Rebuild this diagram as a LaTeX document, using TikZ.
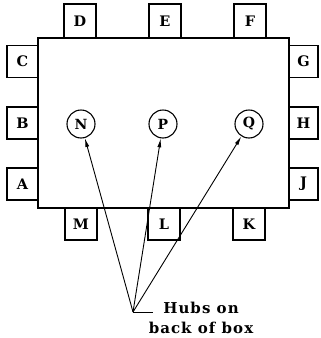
\documentclass[tikz,border=0pt]{standalone}
\usepackage{fontspec}
\setmainfont{DejaVu Serif}
\usetikzlibrary{arrows.meta}
\begin{document}
\begin{tikzpicture}[x=1pt,y=-1pt,
  tab/.style={draw,line width=1.2pt,inner sep=0pt,font=\fontsize{14.5}{14.5}\selectfont\bfseries},
  htab/.style={tab,minimum width=32pt,minimum height=34pt},
  vtab/.style={tab,minimum width=31pt,minimum height=32pt},
  hub/.style={draw,circle,line width=1.1pt,minimum size=28pt,inner sep=0pt,font=\fontsize{14}{14}\selectfont\bfseries},
  link/.style={line width=0.9pt,-{Latex[length=9pt,width=4pt]}},
  lbl/.style={font=\fontsize{15}{20}\selectfont\bfseries\addfontfeatures{LetterSpace=7},align=center,inner sep=0pt}]
\useasboundingbox (0,0) rectangle (321,338);
% tabs
\node[htab] (D) at (80,21) {D};
\node[htab] (E) at (165,21) {E};
\node[htab] (F) at (250,21) {F};
\node[vtab] (C) at (22.5,61.5) {C};
\node[vtab] (B) at (22.5,123) {B};
\node[vtab] (A) at (22.5,184) {A};
\node[vtab,minimum width=29pt] (G) at (303.5,61.5) {G};
\node[vtab,minimum width=29pt] (H) at (303.5,123) {H};
\node[vtab,minimum width=29pt] (J) at (303.5,184) {J};
\node[htab,minimum height=32pt] (M) at (81,224) {M};
\node[htab,minimum height=32pt] (L) at (164,224) {L};
\node[htab,minimum height=32pt] (K) at (249,224) {K};
% main box
\draw[line width=1.6pt,fill=white] (38,38) rectangle (289,208);
% hubs
\node[hub] (N) at (81,124) {N};
\node[hub] (P) at (163,124) {P};
\node[hub] (Q) at (249,124) {Q};
% pointer
\coordinate (h) at (133,312);
\coordinate (h2) at (153,312);
\draw[line width=0.9pt] (h) -- (h2);
\draw[link] (h) -- (N);
\draw[link] (h) -- (P);
\draw[link] (h) -- (Q);
\node[lbl,anchor=base] (T) at (201,333) {Hubs on\\back of box};
\end{tikzpicture}
\end{document}
